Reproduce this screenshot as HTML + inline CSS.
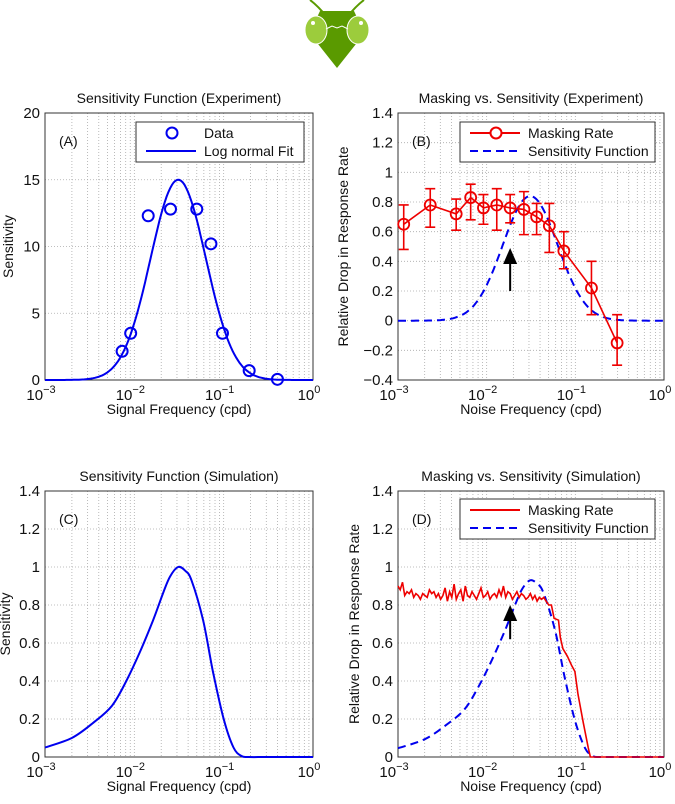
<!DOCTYPE html>
<html><head><meta charset="utf-8"><style>
body{margin:0;background:#fff;}
svg{display:block;font-family:"Liberation Sans",Arial,sans-serif;}
</style></head><body>
<svg id="fig" width="675" height="804" viewBox="0 0 675 804">
  <g>
    <path d="M326,16 Q318,6 310,0" stroke="#5a9a00" stroke-width="2" fill="none"/>
    <path d="M348,16 Q356,6 364,0" stroke="#5a9a00" stroke-width="2" fill="none"/>
    <path d="M320,11 L354,11 L362,28 L356,44 L337,68 L318,44 L312,28 Z" fill="#5a9a00"/>
    <ellipse cx="316" cy="30" rx="11" ry="14" fill="#9ccc3c" stroke="#fff" stroke-width="1"/>
    <ellipse cx="358" cy="30" rx="11" ry="14" fill="#9ccc3c" stroke="#fff" stroke-width="1"/>
    <circle cx="313" cy="23" r="2" fill="#fff"/>
    <circle cx="361" cy="23" r="2" fill="#fff"/>
    <path d="M326,29 L332,26 L337,28 L342,26 L348,29" stroke="#fff" stroke-width="1" fill="none"/>
  </g>
</svg>
<script>
// ---------- data ----------
const aDataFreq = [0.0073,0.0091,0.0143,0.0254,0.050,0.072,0.097,0.193,0.40];
const aDataSens = [2.15,3.5,12.3,12.8,12.8,10.2,3.5,0.7,0.05];
const aFitPeakFreq = 0.031;
const aFitAmp = 15;
const aFitSigma = 0.31;
const bFreq = [0.00116,0.00231,0.00453,0.0066,0.0092,0.013,0.0184,0.0263,0.0366,0.0509,0.0742,0.152,0.296];
const bRate = [0.65,0.78,0.72,0.83,0.76,0.78,0.76,0.75,0.70,0.64,0.47,0.22,-0.15];
const bErrHi = [0.78,0.89,0.82,0.92,0.85,0.89,0.85,0.87,0.79,0.79,0.60,0.40,0.04];
const bErrLo = [0.48,0.63,0.61,0.68,0.65,0.61,0.66,0.58,0.58,0.46,0.35,0.04,-0.30];
const bSensAmp = 0.84;
const simLogFreq = [-3,-2.70,-2.46,-2.25,-2.09,-1.94,-1.79,-1.68,-1.6,-1.51,-1.43,-1.36,-1.23,-1.12,-1.0,-0.89,-0.80,-0.72,-0.5,0];
const cSens = [0.05,0.10,0.18,0.27,0.40,0.55,0.72,0.86,0.95,1.0,0.98,0.93,0.72,0.45,0.2,0.05,0.005,0.0,0.0,0.0];
const dSensScale = 0.93;
const dMaskFlat = [0.90,0.88,0.92,0.85,0.87,0.86,0.88,0.84,0.86,0.85,0.83,0.86,0.85,0.84,0.88,0.86,0.87,0.84,0.86,0.83,0.85,0.89,0.82,0.87,0.84,0.91,0.83,0.86,0.88,0.82,0.90,0.85,0.84,0.87,0.85,0.83,0.86,0.89,0.84,0.85,0.87,0.83,0.85,0.86,0.84,0.88,0.85,0.90,0.84,0.87,0.86,0.83,0.85,0.87,0.84,0.86,0.85,0.83,0.84,0.86,0.83,0.85,0.82,0.84,0.83,0.84,0.82];
const dMaskDropLog = [-1.30,-1.27,-1.24,-1.19,-1.17,-1.14,-1.09,-1.04,-1.005,-0.97,-0.91,-0.855,-0.83,0];
const dMaskDrop = [0.80,0.80,0.73,0.72,0.63,0.57,0.53,0.48,0.45,0.33,0.18,0.05,0.0,0.0];
const arrowFreq = 0.0184;

// ---------- helpers ----------
const svg = document.getElementById('fig');
const NS = 'http://www.w3.org/2000/svg';
function mk(tag, attrs, parent){ const e=document.createElementNS(NS,tag); for(const k in attrs) e.setAttribute(k,attrs[k]); (parent||svg).appendChild(e); return e; }

function panel(p){
  const g = mk('g',{});
  
  
  const X = v => p.x0 + (Math.log10(v)+3)/3*(p.x1-p.x0);
  const XL = l => p.x0 + (l+3)/3*(p.x1-p.x0);
  const Y = v => p.y1 - (v-p.ymin)/(p.ymax-p.ymin)*(p.y1-p.y0);
  for(let d=-3; d<0; d++){
    for(let m=1;m<=9;m++){
      if(d===-3&&m===1) continue;
      const x = X(m*Math.pow(10,d));
      const gl = mk('line',{x1:x,x2:x,y1:p.y0,y2:p.y1,stroke:'#aaa','stroke-width':0.8,'stroke-dasharray':'1,2'},g);
      
      
    }
  }
  p.yticks.forEach((t,i)=>{
    const y=Y(t);
    if(i>0 && i<p.yticks.length-1){
      const gl = mk('line',{x1:p.x0,x2:p.x1,y1:y,y2:y,stroke:'#aaa','stroke-width':0.8,'stroke-dasharray':'1,2'},g);
      
      
    }
    const tl = mk('text',{x:p.x0-5,y:y+5,'text-anchor':'end','font-size':15,fill:'#111'},g);
    tl.textContent = p.ylabels[i];
    
    
  });
  [-3,-2,-1,0].forEach(d=>{
    const x=XL(d);
    const t = mk('text',{x:x-4,y:p.y1+20,'text-anchor':'middle','font-size':15,fill:'#111'},g);
    
    
    t.textContent='10';
    const s = mk('tspan',{dy:-7,'font-size':11},t);
    s.textContent = d===0?'0':('\u2212'+(-d));
  });
  const b = mk('rect',{x:p.x0,y:p.y0,width:p.x1-p.x0,height:p.y1-p.y0,fill:'none',stroke:'#333','stroke-width':1},g);
  
  
  const tt = mk('text',{x:(p.x0+p.x1)/2,y:p.y0-10,'text-anchor':'middle','font-size':14,fill:'#111'},g);
  tt.textContent=p.title;
  
  
  const xl = mk('text',{x:(p.x0+p.x1)/2,y:p.y1+34,'text-anchor':'middle','font-size':14,fill:'#111'},g);
  xl.textContent=p.xlabel;
  
  
  const yc=(p.y0+p.y1)/2;
  const yl = mk('text',{x:p.ylx,y:yc,'text-anchor':'middle','font-size':14,fill:'#111',transform:`rotate(-90 ${p.ylx} ${yc})`},g);
  yl.textContent=p.ylabel;
  
  
  const pl = mk('text',{x:p.x0+14,y:p.y0+33,'font-size':14,fill:'#111'},g);
  pl.textContent=p.letter;
  
  
  return {g,X,XL,Y};
}
function pathD(pts){ return pts.map((q,i)=>(i?'L':'M')+q[0].toFixed(1)+','+q[1].toFixed(1)).join(''); }
function smoothD(pts){
  let d='M'+pts[0][0].toFixed(1)+','+pts[0][1].toFixed(1);
  for(let i=0;i<pts.length-1;i++){
    const p0=pts[Math.max(0,i-1)],p1=pts[i],p2=pts[i+1],p3=pts[Math.min(pts.length-1,i+2)];
    const c1=[p1[0]+(p2[0]-p0[0])/6,p1[1]+(p2[1]-p0[1])/6];
    const c2=[p2[0]-(p3[0]-p1[0])/6,p2[1]-(p3[1]-p1[1])/6];
    d+=`C${c1[0].toFixed(1)},${c1[1].toFixed(1)} ${c2[0].toFixed(1)},${c2[1].toFixed(1)} ${p2[0].toFixed(1)},${p2[1].toFixed(1)}`;
  }
  return d;
}
function legend(g,x,y,w,entries){
  const lg = mk('g',{},g);
  
  
  mk('rect',{x:x,y:y,width:w,height:40,fill:'#fff',stroke:'#333','stroke-width':1},lg);
  entries.forEach((e,i)=>{
    const ey=y+11+i*18;
    const en = mk('g',{},lg);
    
    
    if(e.line) mk('line',{x1:x+10,x2:x+60,y1:ey,y2:ey,stroke:e.color,'stroke-width':2,'stroke-dasharray':e.dash||'none'},en);
    if(e.marker) mk('circle',{cx:x+36,cy:ey,r:5.5,fill:'#fff',stroke:e.color,'stroke-width':2},en);
    const t = mk('text',{x:x+68,y:ey+5,'font-size':14,fill:'#111'},en);
    t.textContent=e.label;
  });
}
function fitVal(logf,amp){ const d=logf-Math.log10(aFitPeakFreq); return amp*Math.exp(-d*d/(2*aFitSigma*aFitSigma)); }
function arrow(g,P){
  const x=P.X(arrowFreq);
  const a = mk('g',{},g);
  
  
  mk('line',{x1:x,x2:x,y1:P.Y(P.arrowBase),y2:P.Y(P.arrowTip)+10,stroke:'#000','stroke-width':2},a);
  mk('path',{d:`M${x-7},${P.Y(P.arrowTip)+16} L${x},${P.Y(P.arrowTip)} L${x+7},${P.Y(P.arrowTip)+16} Z`,fill:'#000'},a);
}

// ---------- Panel A ----------
{
  const P = panel({name:'panel-a',x0:45,x1:313,y0:113,y1:380,ymin:0,ymax:20,yticks:[0,5,10,15,20],ylabels:['0','5','10','15','20'],
    title:'Sensitivity Function (Experiment)',xlabel:'Signal Frequency (cpd)',ylabel:'Sensitivity',ylx:13,letter:'(A)'});
  const pts=[]; for(let l=-3;l<=0.0001;l+=0.02) pts.push([P.XL(l),P.Y(fitVal(l,aFitAmp))]);
  const fl = mk('path',{d:pathD(pts),fill:'none',stroke:'#0000ee','stroke-width':2},P.g);
  
  
  aDataFreq.forEach((f,i)=>{
    const c = mk('circle',{cx:P.X(f),cy:P.Y(aDataSens[i]),r:5.5,fill:'none',stroke:'#0000ee','stroke-width':2},P.g);
    
    
  });
  legend(P.g,136,122,168,[{marker:true,color:'#0000ee',label:'Data'},{line:true,color:'#0000ee',label:'Log  normal Fit'}]);
}
// ---------- Panel B ----------
{
  const P = panel({name:'panel-b',x0:398,x1:664,y0:113,y1:380,ymin:-0.4,ymax:1.4,yticks:[-0.4,-0.2,0,0.2,0.4,0.6,0.8,1,1.2,1.4],
    ylabels:['\u22120.4','\u22120.2','0','0.2','0.4','0.6','0.8','1','1.2','1.4'],
    title:'Masking vs. Sensitivity (Experiment)',xlabel:'Noise Frequency (cpd)',ylabel:'Relative Drop in Response Rate',ylx:348,letter:'(B)'});
  const pts=[]; for(let l=-3;l<=0.0001;l+=0.02) pts.push([P.XL(l),P.Y(fitVal(l,bSensAmp))]);
  const sl = mk('path',{d:pathD(pts),fill:'none',stroke:'#0000ee','stroke-width':2,'stroke-dasharray':'8,5'},P.g);
  
  
  const ml = mk('path',{d:pathD(bFreq.map((f,i)=>[P.X(f),P.Y(bRate[i])])),fill:'none',stroke:'#ee0000','stroke-width':1.6},P.g);
  
  
  bFreq.forEach((f,i)=>{
    const x=P.X(f);
    const eb = mk('path',{d:`M${x},${P.Y(bErrLo[i])}L${x},${P.Y(bErrHi[i])}M${x-5},${P.Y(bErrLo[i])}L${x+5},${P.Y(bErrLo[i])}M${x-5},${P.Y(bErrHi[i])}L${x+5},${P.Y(bErrHi[i])}`,stroke:'#ee0000','stroke-width':1.6,fill:'none'},P.g);
    
    
    const c = mk('circle',{cx:x,cy:P.Y(bRate[i]),r:5.5,fill:'none',stroke:'#ee0000','stroke-width':1.8},P.g);
    
    
  });
  P.arrowBase=0.2; P.arrowTip=0.49; arrow(P.g,P);
  legend(P.g,460,122,195,[{line:true,marker:true,color:'#ee0000',label:'Masking Rate'},{line:true,color:'#0000ee',dash:'8,5',label:'Sensitivity Function'}]);
}
// ---------- Panel C ----------
{
  const P = panel({name:'panel-c',x0:45,x1:313,y0:491,y1:757,ymin:0,ymax:1.4,yticks:[0,0.2,0.4,0.6,0.8,1,1.2,1.4],
    ylabels:['0','0.2','0.4','0.6','0.8','1','1.2','1.4'],
    title:'Sensitivity Function (Simulation)',xlabel:'Signal Frequency (cpd)',ylabel:'Sensitivity',ylx:10,letter:'(C)'});
  const sl = mk('path',{d:smoothD(simLogFreq.map((l,i)=>[P.XL(l),P.Y(cSens[i])])),fill:'none',stroke:'#0000ee','stroke-width':2},P.g);
  
  
}
// ---------- Panel D ----------
{
  const P = panel({name:'panel-d',x0:398,x1:664,y0:491,y1:757,ymin:0,ymax:1.4,yticks:[0,0.2,0.4,0.6,0.8,1,1.2,1.4],
    ylabels:['0','0.2','0.4','0.6','0.8','1','1.2','1.4'],
    title:'Masking vs. Sensitivity (Simulation)',xlabel:'Noise Frequency (cpd)',ylabel:'Relative Drop in Response Rate',ylx:359,letter:'(D)'});
  const sl = mk('path',{d:smoothD(simLogFreq.map((l,i)=>[P.XL(l),P.Y(cSens[i]*dSensScale)])),fill:'none',stroke:'#0000ee','stroke-width':2,'stroke-dasharray':'8,5'},P.g);
  
  
  const step=(-1.33+3)/(dMaskFlat.length-1);
  const pts = dMaskFlat.map((v,i)=>[P.XL(-3+i*step),P.Y(v)]).concat(dMaskDropLog.map((l,i)=>[P.XL(l),P.Y(dMaskDrop[i])]));
  const ml = mk('path',{d:pathD(pts),fill:'none',stroke:'#ee0000','stroke-width':1.6},P.g);
  
  
  P.arrowBase=0.62; P.arrowTip=0.8; arrow(P.g,P);
  legend(P.g,460,499,195,[{line:true,color:'#ee0000',label:'Masking Rate'},{line:true,color:'#0000ee',dash:'8,5',label:'Sensitivity Function'}]);
}
</script>
</body></html>
